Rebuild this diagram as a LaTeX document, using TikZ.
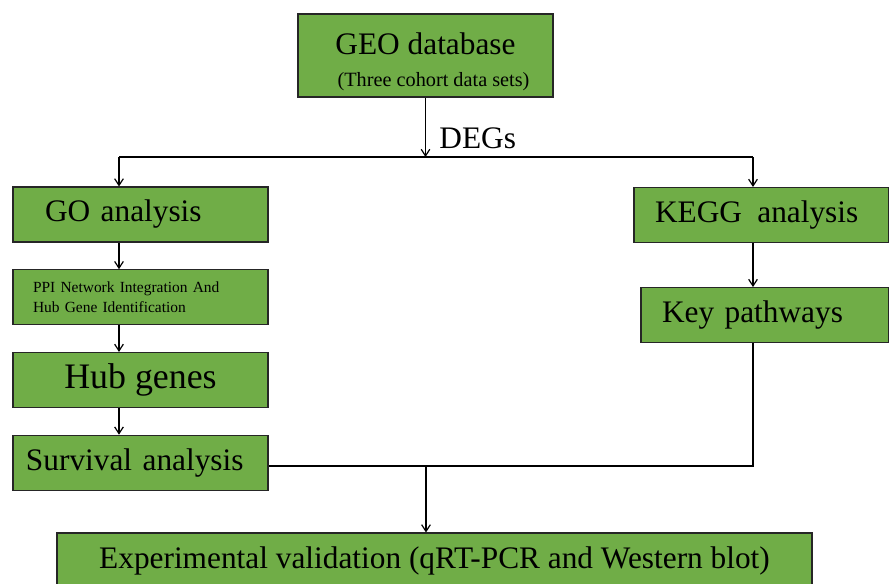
\documentclass[tikz,border=0pt]{standalone}
\usepackage{fontspec}
\setmainfont{Liberation Serif}
\usetikzlibrary{positioning,arrows.meta}
\definecolor{boxgreen}{RGB}{112,173,71}

\begin{document}
\begin{tikzpicture}[
    x=0.75pt, y=-0.75pt,
    node distance=20pt,
    box/.style={rectangle, draw=black!85, line width=0.8pt, fill=boxgreen, minimum width=191.25pt, minimum height=41.25pt, inner ysep=0pt, font=\fontsize{23.5}{28}\selectfont},
    flow/.style={-{Straight Barb[length=5pt,width=6.5pt]}, line width=0.9pt},
    bus/.style={line width=1.5pt}
]
    \useasboundingbox (0,0) rectangle (889,583);

    \node[box, minimum height=62.25pt, align=center] (geo) at (425.5,55.5)
        {\rule{0pt}{26pt}GEO database\\[-4.25pt]\hspace*{12pt}{\fontsize{15.2}{18}\selectfont (Three cohort data sets)}};

    % left column
    \node[box, align=left, inner xsep=24pt, text width=143.25pt] (go) at (140.5,214.5) {GO analysis};
    \node[box, align=left, inner xsep=15pt, text width=161.25pt, font=\fontsize{11.6}{14.3}\selectfont] (ppi) [below=of go]
        {PPI Network Integration And\\Hub Gene Identification};
    \node[box, font=\fontsize{26.9}{32}\selectfont] (hub) [below=of ppi] {Hub genes};
    \node[box, align=left, inner xsep=9.75pt, text width=171.75pt] (surv) [below=of hub] {Survival analysis};

    % right column
    \node[box, align=left, inner xsep=15.75pt, text width=159.75pt] (kegg) at (761.5,215) {KEGG\hspace{11.5pt}analysis};
    \node[box, align=left, minimum width=186pt, inner xsep=15.75pt, text width=154.5pt] (key)
        [below=33pt of kegg.south east, anchor=north east] {Key pathways};

    \node[box, minimum width=566.25pt] (exp) at (434.5,560.5)
        {Experimental validation (qRT-PCR and Western blot)};

    \coordinate (lbus) at (119,157);
    \coordinate (rbus) at (753,157);
    \coordinate (join) at (426,466);

    \draw[flow] (geo.south) -- (geo.south |- lbus)
        node[pos=0.68, anchor=west, xshift=10pt, inner sep=0pt, font=\fontsize{23.5}{28}\selectfont] (degs) {DEGs};
    \draw[bus] (lbus) -- (rbus);
    \draw[flow] (lbus) -- (lbus |- go.north);
    \draw[flow] (rbus) -- (rbus |- kegg.north);

    \draw[flow] (lbus |- go.south) -- (lbus |- ppi.north);
    \draw[flow] (lbus |- ppi.south) -- (lbus |- hub.north);
    \draw[flow] (lbus |- hub.south) -- (lbus |- surv.north);
    \draw[flow] (rbus |- kegg.south) -- (rbus |- key.north);

    \draw[bus] (rbus |- key.south) |- (join) -- (join -| surv.east);
    \draw[flow] (join) -- (join |- exp.north);
\end{tikzpicture}
\end{document}
